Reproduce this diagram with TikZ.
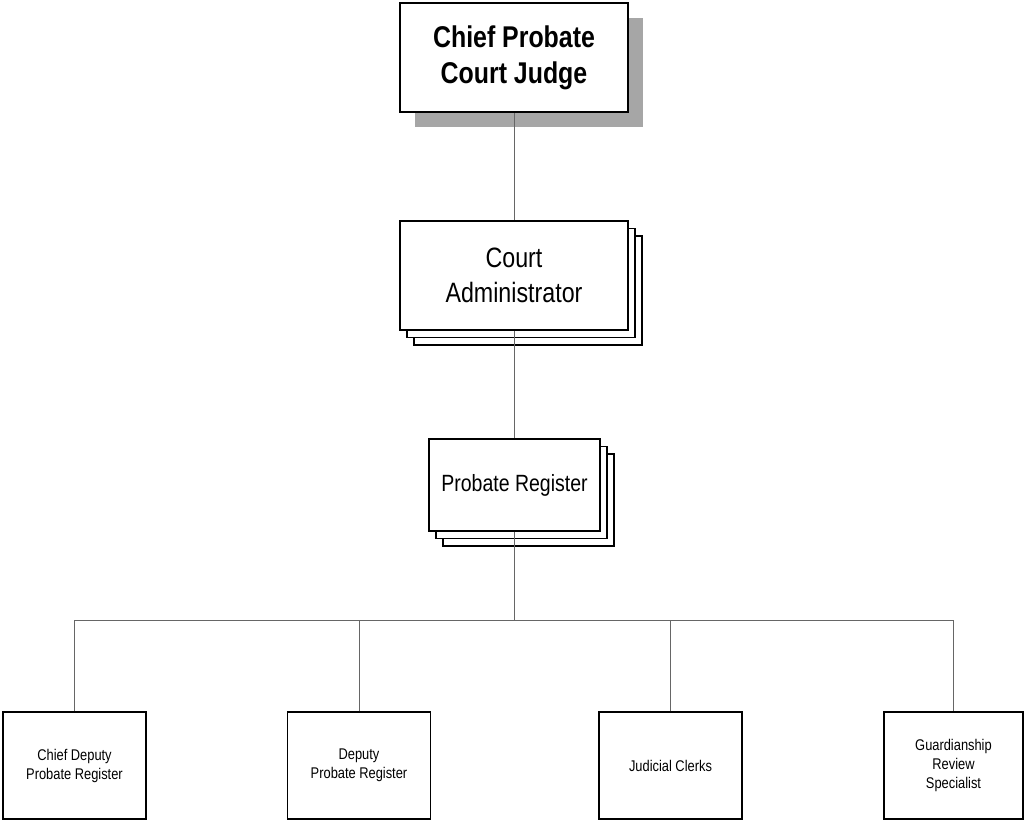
\documentclass[tikz,border=0pt]{standalone}
\usepackage{fontspec}
\setmainfont[FakeStretch=0.83]{Liberation Sans}
\usetikzlibrary{shadows}
\tikzset{
  box/.style={draw=black, line width=1.5pt, fill=white, align=center, inner sep=0pt},
  topbox/.style={box, minimum width=228pt, minimum height=109pt,
    font=\fontsize{30}{36}\selectfont\bfseries,
    drop shadow={shadow xshift=15pt, shadow yshift=-15pt, fill=black!35, opacity=1}},
  stackbox/.style={box, double copy shadow={shadow xshift=7pt, shadow yshift=-7.5pt}},
  staff/.style={box, minimum width=143pt, minimum height=107pt,
    font=\fontsize{15.5}{19}\selectfont},
  link/.style={draw=black!60, line width=1pt}
}
\begin{document}
\begin{tikzpicture}[x=1pt,y=-1pt]
\useasboundingbox (0,0) rectangle (1026,823);
\node[topbox] (judge) at (514,57.5) {Chief Probate\\Court Judge};
\node[stackbox, minimum width=228pt, minimum height=109pt,
  font=\fontsize{28}{35}\selectfont] (admin) at (514,275.5) {Court\\Administrator};
\node[stackbox, minimum width=171pt, minimum height=92pt,
  font=\fontsize{23.5}{28}\selectfont] (reg) at (514.5,485) {Probate Register};
\node[staff] (cdpr) at (74.5,765.5) {Chief Deputy\\Probate Register};
\node[staff] (dpr) at (359,765.5) {Deputy\\Probate Register};
\node[staff] (jc) at (670.5,765.5) {Judicial Clerks};
\node[staff, minimum width=139pt] (grs) at (953.5,765.5) {Guardianship\\Review\\Specialist};
\coordinate (bus) at (514.5,620);
\draw[link] (judge.south) -- (judge.south |- admin.north);
\draw[link] (admin.south) -- (admin.south |- reg.north);
\draw[link] (reg.south) -- (bus);
\draw[link] (cdpr.north) -- (cdpr.north |- bus) -- (grs.north |- bus) -- (grs.north);
\draw[link] (dpr.north) -- (dpr.north |- bus);
\draw[link] (jc.north) -- (jc.north |- bus);
\end{tikzpicture}
\end{document}
